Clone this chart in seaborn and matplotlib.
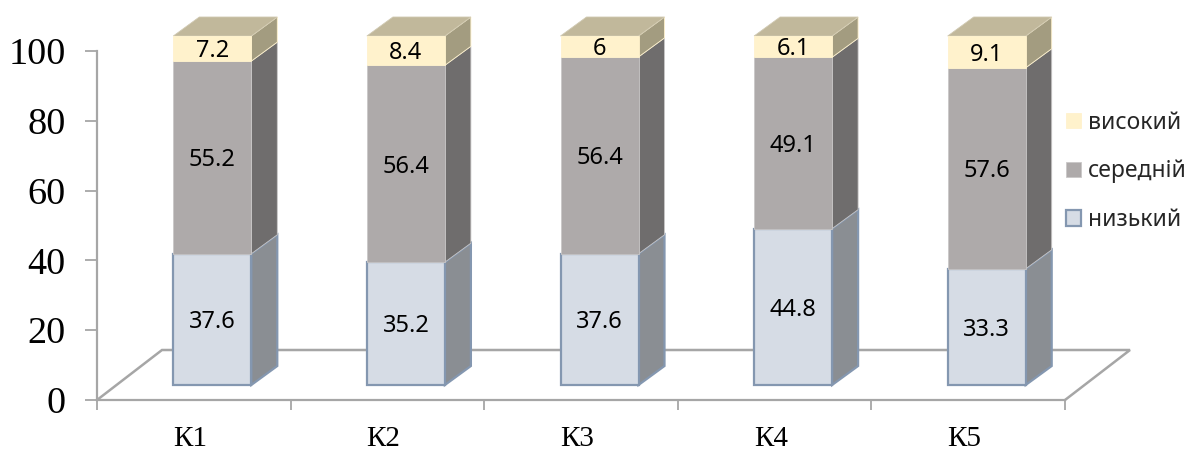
import matplotlib
matplotlib.use("Agg")
import matplotlib.pyplot as plt
from matplotlib.patches import Patch
import numpy as np
import pandas as pd
import seaborn as sns

groups = ["К1", "К2", "К3", "К4", "К5"]
low = [37.6, 35.2, 37.6, 44.8, 33.3]
mid = [55.2, 56.4, 56.4, 49.1, 57.6]
high = [7.2, 8.4, 6, 6.1, 9.1]
series_names = ["низький", "середній", "високий"]
yticks = [0, 20, 40, 60, 80, 100]

W, H = 1203, 450
sns.set_theme(style="white", rc={"axes.facecolor": "none"})
plt.rcParams["font.family"] = ["Liberation Serif"]
LABEL_FONT = ["Noto Sans", "DejaVu Sans"]

fig = plt.figure(figsize=(W / 100, H / 100), dpi=100, facecolor="white")
ax = fig.add_axes([97 / W, 1 - 400 / H, (1065 - 97) / W, (400 - 51) / H])

# Pseudo-3D geometry, in data units of the two axes
bar_width = 78 / 193.6
shift_x = 18.5 / 193.6
depth_x = 26 / 193.6
depth_y = 19 / 3.49
lift = 15 / 3.49
floor_x = 65 / 193.6
floor_y = 50 / 3.49
AXIS = "#a6a6a6"

styles = [
    dict(front="#d6dce5", side="#8a8e93", edge="#8497b0", lw=1.6),
    dict(front="#aeaaaa", side="#6f6d6d", edge="#c9c7c7", lw=0.6),
    dict(front="#fff2cc", side="#a39c80", edge="#fff2cc", lw=0.6),
]
top_color = "#c1b89b"

df = pd.DataFrame({"pos": np.arange(len(groups)) + shift_x, "low": low, "mid": mid, "high": high})
pos = df["pos"].to_numpy()

# Floor of the plot box, behind the columns
ax.plot([-0.5, -0.5 + floor_x, 4.5 + floor_x, 4.5], [0, floor_y, floor_y, 0],
        color=AXIS, lw=1.8, clip_on=False, zorder=1, solid_joinstyle="miter")

base = np.full(len(groups), lift)
for col, name, st in zip(["low", "mid", "high"], series_names, styles):
    vals = df[col].to_numpy()
    before = len(ax.patches)
    sns.barplot(data=df, x="pos", y=col, native_scale=True, width=bar_width, bottom=base,
                color=st["front"], saturation=1, errorbar=None, ax=ax, zorder=3,
                edgecolor=st["edge"], linewidth=st["lw"], clip_on=False)
    for p in ax.patches[before:]:
        p.set_facecolor(st["front"])
    for x, b, v in zip(pos, base, vals):
        xr = x + bar_width / 2
        ax.fill([xr, xr + depth_x, xr + depth_x, xr],
                [b, b + depth_y, b + v + depth_y, b + v],
                facecolor=st["side"], edgecolor=st["edge"], lw=st["lw"], clip_on=False, zorder=2.5)
        ax.annotate(f"{v:g}", (x, b + v / 2), xytext=(0, -2), textcoords="offset points",
                    ha="center", va="center", fontsize=17,
                    family=LABEL_FONT, color="black", zorder=5, annotation_clip=False)
    base = base + vals

# Lid on top of each column
for x, t in zip(pos, base):
    xl, xr = x - bar_width / 2, x + bar_width / 2
    ax.fill([xl, xr, xr + depth_x, xl + depth_x], [t, t, t + depth_y, t + depth_y],
            facecolor=top_color, edgecolor="#d0c9b2", lw=0.6, clip_on=False, zorder=2.5)

ax.set_xlim(-0.5, 4.5)
ax.set_ylim(0, 100)
ax.set_xlabel("")
ax.set_ylabel("")
ax.set_yticks(yticks)
ax.set_yticklabels([str(t) for t in yticks], fontsize=27.5, color="black")
ax.set_xticks(np.arange(-0.5, 5, 1))
ax.set_xticklabels([])
ax.set_xticks(np.arange(len(groups)) - 0.02, minor=True)
ax.set_xticklabels(groups, minor=True, fontsize=21, color="black")
ax.tick_params(axis="y", which="major", length=8.6, width=1.3, color=AXIS, pad=14, left=True)
ax.tick_params(axis="x", which="major", length=7.2, width=1.3, color=AXIS, bottom=True)
ax.tick_params(axis="x", which="minor", length=0, pad=19)
for s in ["top", "right"]:
    ax.spines[s].set_visible(False)
for s in ["left", "bottom"]:
    ax.spines[s].set_color(AXIS)
    ax.spines[s].set_linewidth(1.6)

handles = [Patch(facecolor=st["front"], edgecolor=st["edge"], lw=st["lw"], label=n)
           for st, n in zip(styles, series_names)][::-1]
ax.legend(handles=handles, loc="upper left", bbox_to_anchor=(1061 / W, 1 - 106 / H),
          bbox_transform=fig.transFigure, frameon=False, prop={"family": LABEL_FONT, "size": 16.5},
          handlelength=0.66, handleheight=0.66, handletextpad=0.3, labelspacing=1.08,
          borderpad=0.2, borderaxespad=0)

fig.savefig("out.png", dpi=100)
